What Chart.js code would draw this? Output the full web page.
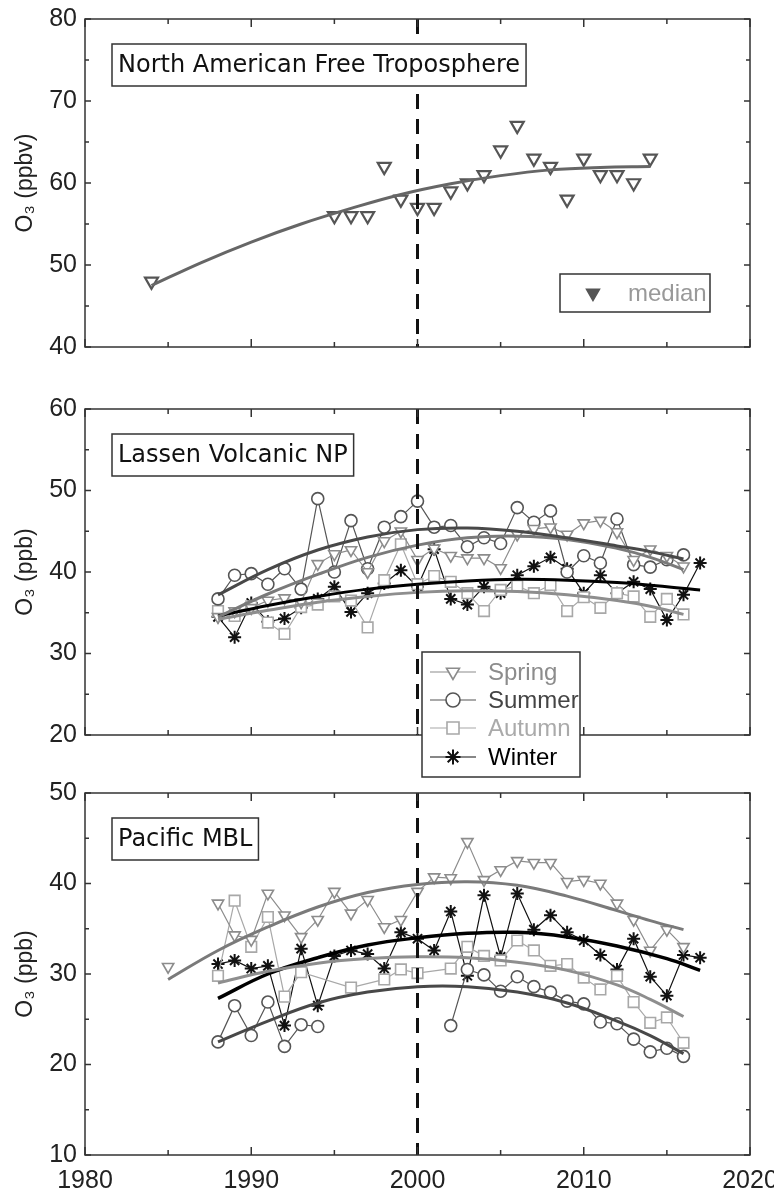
<!DOCTYPE html>
<html>
<head>
<meta charset="utf-8">
<script src="https://cdn.jsdelivr.net/npm/chart.js@4.4.1/dist/chart.umd.min.js"></script>
<style>
  html, body { margin: 0; padding: 0; background: #fff; }
  #wrap { position: relative; width: 774px; height: 1191px; overflow: hidden; }
  canvas { position: absolute; left: 0; }
</style>
</head>
<body>
<div id="wrap">
  <canvas id="c1" width="774" height="400" style="top:0px"></canvas>
  <canvas id="c2" width="774" height="400" style="top:390px"></canvas>
  <canvas id="c3" width="774" height="416" style="top:775px"></canvas>
</div>
<script>
// axis ranges
const xMin = 1980;
const xMax = 2020;
const markYear = 2000;

// North American free troposphere (median)
const nafYears = [1984, 1995, 1996, 1997, 1998, 1999, 2000, 2001, 2002, 2003, 2004, 2005, 2006, 2007, 2008, 2009, 2010, 2011, 2012, 2013, 2014];
const nafMedian = [48, 56, 56, 56, 62, 58, 57, 57, 59, 60, 61, 64, 67, 63, 62, 58, 63, 61, 61, 60, 63];
const nafFitYears = [1984, 1987, 1990, 1993, 1996, 1999, 2002, 2005, 2008, 2011, 2014];
const nafFit = [47.5, 50.3, 52.8, 55.0, 56.9, 58.6, 59.9, 60.9, 61.6, 61.9, 62.0];

// Lassen Volcanic NP
const lassenYears = [1988, 1989, 1990, 1991, 1992, 1993, 1994, 1995, 1996, 1997, 1998, 1999, 2000, 2001, 2002, 2003, 2004, 2005, 2006, 2007, 2008, 2009, 2010, 2011, 2012, 2013, 2014, 2015, 2016];
const lassenWinterYears = [1988, 1989, 1990, 1991, 1992, 1993, 1994, 1995, 1996, 1997, 1998, 1999, 2000, 2001, 2002, 2003, 2004, 2005, 2006, 2007, 2008, 2009, 2010, 2011, 2012, 2013, 2014, 2015, 2016, 2017];
const lassenSpring = [34.5, 35.2, 35.6, 36.5, 36.8, 36.3, 41.0, 42.2, 42.7, 40.0, 43.8, 45.0, 41.5, 42.9, 42.0, 41.7, 41.7, 40.5, 44.6, 45.3, 45.5, 44.6, 46.0, 46.3, 44.9, 41.5, 42.8, 42.0, 40.7];
const lassenSummer = [36.7, 39.6, 39.8, 38.5, 40.4, 37.9, 49.0, 40.0, 46.3, 40.4, 45.5, 46.8, 48.7, 45.5, 45.7, 43.1, 44.2, 43.5, 47.9, 46.1, 47.5, 40.0, 42.0, 41.1, 46.5, 40.9, 40.6, 41.5, 42.1];
const lassenAutumn = [35.2, 34.6, 35.8, 33.8, 32.4, 35.7, 36.0, 37.0, 36.5, 33.2, 39.0, 43.4, 38.5, 39.5, 38.8, 37.4, 35.2, 37.8, 38.3, 37.4, 38.4, 35.2, 36.9, 35.6, 37.4, 37.0, 34.5, 36.7, 34.8];
const lassenWinter = [34.5, 32.0, 36.2, 33.9, 34.3, 35.6, 36.7, 38.2, 35.1, 37.4, 38.6, 40.2, 38.2, 42.8, 36.7, 36.0, 38.2, 37.4, 39.6, 40.7, 41.8, 40.4, 37.4, 39.6, 37.4, 38.8, 37.9, 34.1, 37.2, 41.1];
const lassenFitYears = [1988, 1991, 1994, 1997, 2000, 2003, 2006, 2009, 2012, 2014, 2016];
const lassenWinterFitYears = [1988, 1991, 1994, 1997, 2000, 2003, 2006, 2009, 2012, 2015, 2017];
const lassenSpringFit = [34.5, 37.3, 39.7, 41.8, 43.3, 44.2, 44.4, 44.0, 42.9, 41.8, 40.3];
const lassenSummerFit = [37.2, 40.3, 42.7, 44.3, 45.2, 45.4, 45.0, 44.2, 43.2, 42.5, 41.6];
const lassenAutumnFit = [34.2, 35.3, 36.3, 37.0, 37.5, 37.7, 37.6, 37.2, 36.5, 35.8, 34.8];
const lassenWinterFit = [34.6, 35.9, 37.0, 37.9, 38.5, 38.9, 39.1, 39.0, 38.7, 38.2, 37.8];

// Pacific MBL
const pacSpringYears = [1985, 1986, 1988, 1989, 1990, 1991, 1992, 1993, 1994, 1995, 1996, 1997, 1998, 1999, 2000, 2001, 2002, 2003, 2004, 2005, 2006, 2007, 2008, 2009, 2010, 2011, 2012, 2013, 2014, 2015, 2016];
const pacSpring = [30.8, null, 37.8, 34.3, 33.8, 38.9, 36.5, 34.1, 36.0, 39.1, 36.7, 38.2, 35.2, 36.0, 39.1, 40.7, 40.6, 44.6, 40.4, 41.5, 42.5, 42.3, 42.3, 40.2, 40.4, 40.0, 37.8, 36.0, 32.6, 34.9, 33.0];
const pacSummerYears = [1988, 1989, 1990, 1991, 1992, 1993, 1994, 1995, 2002, 2003, 2004, 2005, 2006, 2007, 2008, 2009, 2010, 2011, 2012, 2013, 2014, 2015, 2016];
const pacSummer = [22.5, 26.5, 23.2, 26.9, 22.0, 24.4, 24.2, null, 24.3, 30.5, 29.9, 28.1, 29.7, 28.6, 28.0, 27.0, 26.7, 24.7, 24.5, 22.8, 21.4, 21.8, 20.9];
const pacAutumnYears = [1988, 1989, 1990, 1991, 1992, 1993, 1996, 1998, 1999, 2000, 2002, 2003, 2004, 2005, 2006, 2007, 2008, 2009, 2010, 2011, 2012, 2013, 2014, 2015, 2016];
const pacAutumn = [29.8, 38.1, 33.0, 36.3, 27.5, 30.2, 28.5, 29.4, 30.5, 30.1, 30.6, 33.0, 32.0, 31.5, 33.7, 32.6, 30.9, 31.1, 29.6, 28.3, 29.8, 26.9, 24.6, 25.2, 22.4];
const pacWinterYears = [1988, 1989, 1990, 1991, 1992, 1993, 1994, 1995, 1996, 1997, 1998, 1999, 2000, 2001, 2002, 2003, 2004, 2005, 2006, 2007, 2008, 2009, 2010, 2011, 2012, 2013, 2014, 2015, 2016, 2017];
const pacWinter = [31.1, 31.5, 30.6, 30.9, 24.3, 32.8, 26.5, 32.0, 32.6, 32.2, 30.6, 34.6, 33.9, 32.6, 36.9, 29.8, 38.7, 31.9, 38.9, 34.9, 36.5, 34.6, 33.7, 32.1, 30.5, 33.9, 29.7, 27.6, 32.1, 31.8];
const pacSpringFitYears = [1985, 1988, 1991, 1994, 1997, 2000, 2003, 2006, 2009, 2012, 2014, 2016];
const pacSpringFit = [29.4, 32.6, 35.2, 37.4, 39.0, 39.9, 40.2, 39.8, 38.6, 37.0, 35.9, 34.9];
const pacFitYears = [1988, 1991, 1994, 1997, 2000, 2003, 2006, 2009, 2012, 2014, 2016];
const pacSummerFit = [22.5, 24.8, 26.8, 28.0, 28.6, 28.6, 28.0, 26.8, 24.8, 23.2, 21.2];
const pacAutumnFit = [29.0, 30.3, 31.2, 31.7, 31.9, 31.8, 31.3, 30.4, 28.8, 27.2, 25.3];
const pacWinterFitYears = [1988, 1991, 1994, 1997, 2000, 2003, 2006, 2009, 2012, 2015, 2017];
const pacWinterFit = [27.3, 30.0, 31.8, 33.2, 34.0, 34.5, 34.6, 34.1, 33.1, 31.7, 30.4];

// legend
const seasonLabels = ["Spring", "Summer", "Autumn", "Winter"];

// styles
const FONT = "'Liberation Sans', Arial, sans-serif";
const BOX_FONT = "'DejaVu Sans', sans-serif";
const seasonColors = ["#8c8c8c", "#555555", "#a8a8a8", "#111111"];
const seasonText = ["#8c8c8c", "#444444", "#aaaaaa", "#000000"];
const fitColors = ["#7a7a7a", "#484848", "#8e8e8e", "#000000"];
const seasonStyles = [
  { pointStyle: "triangle", pointRotation: 180, pointRadius: 6.5 },
  { pointStyle: "circle", pointRotation: 0, pointRadius: 6 },
  { pointStyle: "rect", pointRotation: 0, pointRadius: 7.5 },
  { pointStyle: "star", pointRotation: 0, pointRadius: 6.5 },
];

function toXY(years, values) {
  return years.map((yr, i) => ({ x: yr, y: values[i] }));
}

function seasonSeries(years, values, k) {
  let st = seasonStyles[k];
  return {
    data: toXY(years, values),
    borderColor: seasonColors[k],
    borderWidth: 1.2,
    pointStyle: st.pointStyle,
    pointRotation: st.pointRotation,
    pointRadius: st.pointRadius,
    pointBorderWidth: k === 3 ? 2 : 1.6,
    pointBorderColor: seasonColors[k],
    pointBackgroundColor: "#fff",
    tension: 0,
    order: 2,
  };
}

function fitSeries(years, values, color, width) {
  return {
    data: toXY(years, values),
    borderColor: color,
    borderWidth: width,
    pointRadius: 0,
    tension: 0.4,
    order: 1,
  };
}

function xScale(show) {
  return {
    type: "linear",
    min: xMin,
    max: xMax,
    display: show,
    grid: { display: false, drawTicks: false },
    border: { display: false },
    ticks: {
      stepSize: 5,
      autoSkip: false,
      maxRotation: 0,
      padding: 11,
      color: "#222",
      font: { family: FONT, size: 25 },
      callback: (v) => (v % 10 === 0 ? String(v) : ""),
    },
    afterFit: (s) => {
      s.paddingLeft = 0;
      s.paddingRight = 0;
      s.height = 36;
    },
  };
}

function yScale(min, max, title) {
  return {
    min: min,
    max: max,
    grid: { display: false, drawTicks: false },
    border: { display: false },
    ticks: {
      stepSize: 5,
      autoSkip: false,
      padding: 8,
      color: "#222",
      font: { family: FONT, size: 25 },
      callback: (v) => (v % 10 === 0 ? String(v) : ""),
    },
    title: {
      display: true,
      text: title,
      color: "#222",
      font: { family: FONT, size: 23 },
      padding: { top: 12, bottom: 0 },
    },
    afterFit: (s) => {
      s.width = 85;
      s.paddingTop = 0;
      s.paddingBottom = 0;
    },
  };
}

// frame, inward ticks, dashed 2000 line, label box and legend
function makeDecor(info) {
  return {
    id: "decor",
    afterDatasetsDraw(chart) {
      let { ctx, chartArea: a, scales } = chart;
      let x = scales.x;
      let y = scales.y;
      ctx.save();

      let dx = x.getPixelForValue(markYear);
      ctx.strokeStyle = "#111";
      ctx.lineWidth = 3;
      ctx.setLineDash([15, 10]);
      ctx.beginPath();
      ctx.moveTo(dx, a.top);
      ctx.lineTo(dx, a.bottom);
      ctx.stroke();
      ctx.setLineDash([]);

      ctx.strokeStyle = "#333";
      ctx.lineWidth = 1.5;
      ctx.strokeRect(a.left, a.top, a.right - a.left, a.bottom - a.top);
      ctx.beginPath();
      for (let v = xMin; v <= xMax; v += 5) {
        let px = x.getPixelForValue(v);
        let len = v % 10 === 0 ? 8 : 5;
        ctx.moveTo(px, a.bottom);
        ctx.lineTo(px, a.bottom - len);
        ctx.moveTo(px, a.top);
        ctx.lineTo(px, a.top + len);
      }
      for (let v = y.min; v <= y.max; v += 5) {
        let py = y.getPixelForValue(v);
        let len = v % 10 === 0 ? 6 : 4;
        ctx.moveTo(a.left, py);
        ctx.lineTo(a.left + len, py);
        ctx.moveTo(a.right, py);
        ctx.lineTo(a.right - len, py);
      }
      ctx.stroke();

      // panel label
      ctx.font = "24px " + BOX_FONT;
      let tw = ctx.measureText(info.title).width;
      let bx = a.left + 27;
      let by = a.top + 25;
      ctx.fillStyle = "#fff";
      ctx.fillRect(bx, by, tw + 12, 42);
      ctx.strokeStyle = "#333";
      ctx.lineWidth = 1.5;
      ctx.strokeRect(bx, by, tw + 12, 42);
      ctx.fillStyle = "#111";
      ctx.textAlign = "left";
      ctx.textBaseline = "middle";
      ctx.fillText(info.title, bx + 6, by + 22);

      if (info.legend === "median") {
        let lw = 150, lh = 38;
        let lx = a.right - 40 - lw;
        let ly = a.bottom - 35 - lh;
        ctx.fillStyle = "#fff";
        ctx.fillRect(lx, ly, lw, lh);
        ctx.strokeRect(lx, ly, lw, lh);
        ctx.fillStyle = "#555";
        ctx.strokeStyle = "#555";
        Chart.helpers.drawPoint(ctx, { pointStyle: "triangle", rotation: 180, radius: 7.5, borderWidth: 2 }, lx + 33, ly + lh / 2);
        ctx.fillStyle = "#999";
        ctx.font = "24px " + FONT;
        ctx.fillText("median", lx + 68, ly + lh / 2 + 1);
      }

      if (info.legend === "seasons") {
        let lw = 158, lh = 125;
        let lx = a.left + 337;
        let ly = a.top + 243;
        let rows = [20, 48, 76, 105];
        ctx.fillStyle = "#fff";
        ctx.fillRect(lx, ly, lw, lh);
        ctx.strokeStyle = "#333";
        ctx.strokeRect(lx, ly, lw, lh);
        ctx.font = "24px " + FONT;
        seasonLabels.forEach((lab, k) => {
          let ry = ly + rows[k];
          let st = seasonStyles[k];
          ctx.strokeStyle = seasonColors[k];
          ctx.lineWidth = 1.2;
          ctx.beginPath();
          ctx.moveTo(lx + 8, ry);
          ctx.lineTo(lx + 54, ry);
          ctx.stroke();
          ctx.fillStyle = "#fff";
          ctx.lineWidth = k === 3 ? 2 : 1.6;
          Chart.helpers.drawPoint(ctx, { pointStyle: st.pointStyle, rotation: st.pointRotation, radius: st.pointRadius + 1, borderWidth: ctx.lineWidth }, lx + 31, ry);
          ctx.fillStyle = seasonText[k];
          ctx.fillText(lab, lx + 66, ry + 1);
        });
      }
      ctx.restore();
    },
  };
}

function renderPanel(id, datasets, yMin, yMax, yTitle, showX, padding, info) {
  let ctx = document.getElementById(id).getContext("2d");
  return new Chart(ctx, {
    type: "line",
    data: { datasets: datasets },
    options: {
      responsive: false,
      animation: false,
      events: [],
      layout: { padding: padding },
      scales: { x: xScale(showX), y: yScale(yMin, yMax, yTitle) },
      plugins: { legend: { display: false }, tooltip: { enabled: false } },
    },
    plugins: [makeDecor(info)],
  });
}

// panel 1
renderPanel(
  "c1",
  [
    fitSeries(nafFitYears, nafFit, "#666", 3),
    {
      data: toXY(nafYears, nafMedian),
      showLine: false,
      pointStyle: "triangle",
      pointRotation: 180,
      pointRadius: 7.5,
      pointBorderWidth: 2.2,
      pointBorderColor: "#555",
      pointBackgroundColor: "#fff",
      order: 2,
    },
  ],
  40, 80, "O₃ (ppbv)", false,
  { left: 0, right: 24, top: 19, bottom: 17 },
  { title: "North American Free Troposphere", legend: "median" }
);

// panel 2
renderPanel(
  "c2",
  [
    fitSeries(lassenFitYears, lassenSummerFit, fitColors[1], 3),
    fitSeries(lassenFitYears, lassenSpringFit, fitColors[0], 3),
    fitSeries(lassenFitYears, lassenAutumnFit, fitColors[2], 3),
    fitSeries(lassenWinterFitYears, lassenWinterFit, fitColors[3], 3),
    seasonSeries(lassenYears, lassenSpring, 0),
    seasonSeries(lassenYears, lassenSummer, 1),
    seasonSeries(lassenYears, lassenAutumn, 2),
    seasonSeries(lassenWinterYears, lassenWinter, 3),
  ],
  20, 60, "O₃ (ppb)", false,
  { left: 0, right: 24, top: 19, bottom: 19 },
  { title: "Lassen Volcanic NP", legend: "seasons" }
);

// panel 3
renderPanel(
  "c3",
  [
    fitSeries(pacSpringFitYears, pacSpringFit, fitColors[0], 3),
    fitSeries(pacFitYears, pacSummerFit, fitColors[1], 3),
    fitSeries(pacFitYears, pacAutumnFit, fitColors[2], 3),
    fitSeries(pacWinterFitYears, pacWinterFit, fitColors[3], 3.5),
    seasonSeries(pacSpringYears, pacSpring, 0),
    seasonSeries(pacSummerYears, pacSummer, 1),
    seasonSeries(pacAutumnYears, pacAutumn, 2),
    seasonSeries(pacWinterYears, pacWinter, 3),
  ],
  10, 50, "O₃ (ppb)", true,
  { left: 0, right: 24, top: 18, bottom: 0 },
  { title: "Pacific MBL", legend: null }
);
</script>
</body>
</html>
